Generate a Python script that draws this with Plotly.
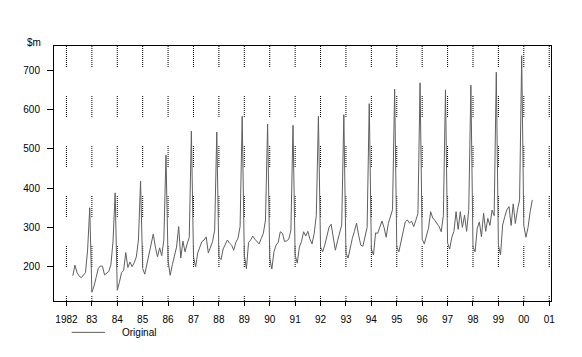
import plotly.graph_objects as go

# Monthly values ($m), April 1982 .. May 2000
start_year = 1982
start_month = 4
v1982 = [177, 204, 185, 176, 172, 180, 185, 243, 350]
v1983 = [135, 150, 172, 195, 202, 201, 179, 184, 188, 205, 265, 388]
v1984 = [140, 160, 185, 190, 236, 198, 212, 200, 210, 225, 268, 418]
v1985 = [195, 181, 207, 230, 250, 283, 250, 225, 248, 228, 268, 484]
v1986 = [215, 178, 205, 228, 250, 302, 222, 265, 238, 258, 275, 545]
v1987 = [225, 200, 235, 250, 264, 268, 276, 235, 248, 264, 293, 543]
v1988 = [225, 218, 245, 255, 268, 260, 255, 242, 262, 272, 302, 583]
v1989 = [230, 195, 262, 268, 278, 270, 264, 258, 272, 285, 319, 563]
v1990 = [222, 194, 238, 255, 262, 289, 285, 264, 266, 270, 293, 560]
v1991 = [230, 209, 250, 264, 289, 278, 290, 270, 258, 285, 331, 583]
v1992 = [250, 238, 255, 281, 300, 308, 268, 242, 265, 285, 306, 587]
v1993 = [235, 222, 250, 272, 290, 311, 280, 255, 252, 275, 300, 615]
v1994 = [245, 230, 286, 285, 300, 316, 300, 275, 310, 325, 345, 652]
v1995 = [250, 238, 264, 293, 314, 319, 311, 316, 302, 318, 336, 668]
v1996 = [270, 258, 275, 298, 340, 324, 318, 311, 302, 289, 330, 650]
v1997 = [260, 245, 275, 290, 340, 295, 340, 300, 331, 290, 345, 662]
v1998 = [250, 238, 298, 314, 276, 336, 290, 323, 305, 344, 330, 695]
v1999 = [255, 230, 306, 327, 345, 353, 305, 360, 310, 345, 370, 737]
v2000 = [305, 275, 300, 340, 370]

values = (v1982 + v1983 + v1984 + v1985 + v1986 + v1987 + v1988 + v1989 + v1990
          + v1991 + v1992 + v1993 + v1994 + v1995 + v1996 + v1997 + v1998 + v1999 + v2000)

tick_years = list(range(1982, 2002))
tick_text = ["1982"] + [f"{y % 100:02d}" for y in tick_years[1:]]
y_ticks = [200, 300, 400, 500, 600, 700]

times = [start_year + (start_month - 1 + i) / 12 for i in range(len(values))]

LINE_COLOR = "#5f5f5f"
FONT = dict(family="Liberation Sans, Arial, sans-serif", size=10, color="black")

fig = go.Figure()
fig.add_trace(go.Scatter(x=times, y=values, mode="lines",
                         line=dict(color=LINE_COLOR, width=1), name="Original",
                         showlegend=False, hoverinfo="skip"))

dot_dash = ",".join(["1px,1px"] * 10 + ["1px,29px"])
for yr in tick_years:
    fig.add_shape(type="line", xref="x", yref="paper", x0=yr, x1=yr, y0=1, y1=0,
                  line=dict(color="black", width=1, dash=dot_dash), layer="below")

# legend drawn manually
fig.add_shape(type="line", xref="paper", yref="paper", x0=0.0356, x1=0.1026, y0=-0.123, y1=-0.123,
              line=dict(color=LINE_COLOR, width=1))
fig.add_annotation(text="Original", xref="paper", yref="paper", x=0.133, y=-0.123,
                   xanchor="left", yanchor="middle", showarrow=False, font=FONT)
fig.add_annotation(text="$m", xref="paper", yref="paper", x=-0.040, y=1.0145,
                   xanchor="center", yanchor="middle", showarrow=False, font=FONT)

fig.update_layout(
    width=582, height=357,
    margin=dict(l=54, r=31, t=46, b=56),
    paper_bgcolor="white", plot_bgcolor="white",
    font=FONT,
    showlegend=False,
)
fig.update_xaxes(range=[1981.51, 2001.07], tickvals=tick_years, ticktext=tick_text,
                 showgrid=False, zeroline=False, showline=True, linecolor="black",
                 linewidth=1, mirror=True, ticks="outside", ticklen=4, tickcolor="black",
                 tickfont=FONT, ticklabelstandoff=5)
fig.update_yaxes(range=[112.7, 761.8], tickvals=y_ticks,
                 showgrid=False, zeroline=False, showline=True, linecolor="black",
                 linewidth=1, mirror=True, ticks="outside", ticklen=6, tickcolor="black",
                 tickfont=FONT, ticklabelstandoff=5)

fig.write_html("out.html")
